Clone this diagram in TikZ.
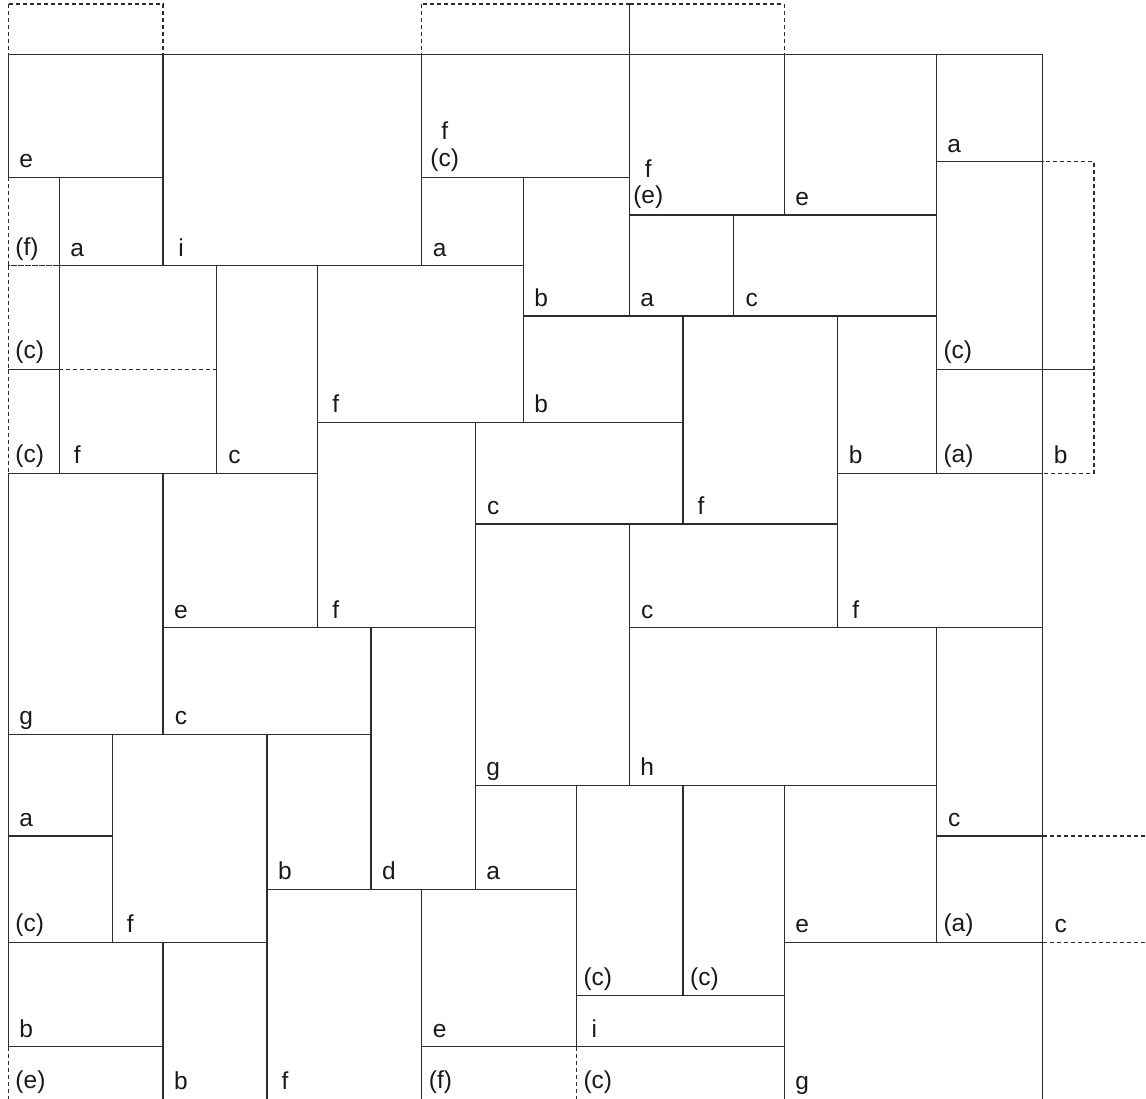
\documentclass[tikz,border=0pt]{standalone}
\usepackage{fontspec}
\setmainfont{Liberation Sans}
\definecolor{ln}{RGB}{45,45,45}
\definecolor{tx}{RGB}{25,25,25}
\tikzset{
  tile/.style={draw=ln,line width=1.4pt},
  wrap/.style={draw=ln,line width=1.3pt,dash pattern=on 4pt off 3pt},
  lb/.style={anchor=base,inner sep=0pt,text=tx,font=\fontsize{24.5}{29}\selectfont},
  lp/.style={lb,anchor=base west}
}
% name, x1, y1, x2, y2, label
\newcommand\TileL[6]{\draw[tile] (#2,#3) rectangle (#4,#5);
  \node[lb] (#1) at (#2+18,#5-9.5) {#6};}
\newcommand\TileP[6]{\draw[tile] (#2,#3) rectangle (#4,#5);
  \node[lp] (#1) at (#2+7,#5-10.5) {#6};}
% open at the bottom edge: name, x1, y1, x2, label
\newcommand\TileB[5]{\draw[tile] (#2,1099) -- (#2,#3) -- (#4,#3) -- (#4,1099);
  \node[lb] (#1) at (#2+18,1089.5) {#5};}
\begin{document}
\begin{tikzpicture}[x=1pt,y=-1pt]
\useasboundingbox (0,0) rectangle (1146,1099);
% ---- dashed wrap-around parts
\draw[wrap] (8.3,4) rectangle (163,54.5);
\draw[wrap] (421.7,4) rectangle (629.3,54.5);
\draw[wrap] (629.3,4) rectangle (784.3,54.5);
\draw[wrap] (8.3,177.5) rectangle (59.3,265.7);
\draw[wrap] (8.3,265.7) rectangle (59.3,369.5);
\draw[wrap] (8.3,369.5) rectangle (59.3,473.3);
\draw[wrap] (59.3,369.5) -- (216.5,369.5);
\draw[wrap] (1042.7,161.7) rectangle (1094,369.5);
\draw[wrap] (1042.7,369.5) rectangle (1094,473.3);
\draw[wrap] (1042.7,836) -- (1146,836);
\draw[wrap] (1042.7,942.3) -- (1146,942.3);
\draw[wrap] (8.3,1046.7) -- (8.3,1099);
\draw[wrap] (576.3,1046.7) -- (576.3,1099);
\node[lp] (w1) at (8.3+7,265.7-10.5) {(f)};
\node[lp] (w2) at (8.3+7,369.5-10.5) {(c)};
\node[lp] (w3) at (8.3+7,473.3-10.5) {(c)};
\node[lb] (w4) at (1042.7+18,473.3-9.5) {b};
\node[lb] (w5) at (1042.7+18,942.3-9.5) {c};
\node[lp] (w6) at (8.3+7,1088) {(e)};
\node[lp] (w7) at (576.3+7,1088) {(c)};
% ---- solid tiles
\TileL{t1}{8.3}{54.5}{163}{177.5}{e}
\TileL{t2}{163}{54.5}{421.7}{265.7}{i}
\TileL{t3}{59.3}{177.5}{163}{265.7}{a}
\draw[tile] (421.7,54.5) rectangle (629.3,177.5);
\node[lb] (t4a) at (421.7+23,177.5-37.5) {f};
\node[lb] (t4b) at (421.7+23,177.5-11) {(c)};
\TileL{t5}{421.7}{177.5}{523.3}{265.7}{a}
\TileL{t6}{523.3}{177.5}{629.3}{316}{b}
\draw[tile] (629.3,54.5) rectangle (784.3,215);
\node[lb] (t7a) at (629.3+19,215-37.5) {f};
\node[lb] (t7b) at (629.3+19,215-11) {(e)};
\TileL{t8}{784.3}{54.5}{936.3}{215}{e}
\TileL{t9}{936.3}{54.5}{1042.7}{161.7}{a}
\TileL{t10}{629.3}{215}{733.7}{316}{a}
\TileL{t11}{733.7}{215}{936.3}{316}{c}
\TileP{t12}{936.3}{161.7}{1042.7}{369.5}{(c)}
\TileP{t13}{936.3}{369.5}{1042.7}{473.3}{(a)}
\TileL{t14}{59.3}{265.7}{216.5}{473.3}{f}
\TileL{t15}{216.5}{265.7}{317.7}{473.3}{c}
\TileL{t16}{317.7}{265.7}{523.3}{422.3}{f}
\TileL{t17}{523.3}{316}{683}{422.3}{b}
\TileL{t18}{683}{316}{837.7}{524}{f}
\TileL{t19}{837.7}{316}{936.3}{473.3}{b}
\TileL{t20}{475.3}{422.3}{683}{524}{c}
\TileL{t21}{317.7}{422.3}{475.3}{627.7}{f}
\TileL{t22}{8.3}{473.3}{163}{734.3}{g}
\TileL{t23}{163}{473.3}{317.7}{627.7}{e}
\TileL{t24}{163}{627.7}{371}{734.3}{c}
\TileL{t25}{371}{627.7}{475.3}{889.3}{d}
\TileL{t26}{475.3}{524}{629.3}{785.3}{g}
\TileL{t27}{629.3}{524}{837.7}{627.7}{c}
\TileL{t28}{837.7}{473.3}{1042.7}{627.7}{f}
\TileL{t29}{629.3}{627.7}{936.3}{785.3}{h}
\TileL{t30}{936.3}{627.7}{1042.7}{836}{c}
\TileL{t31}{8.3}{734.3}{112.3}{836}{a}
\TileP{t32}{8.3}{836}{112.3}{942.3}{(c)}
\TileL{t33}{112.3}{734.3}{267}{942.3}{f}
\TileL{t34}{267}{734.3}{371}{889.3}{b}
\TileL{t35}{475.3}{785.3}{576.3}{889.3}{a}
\TileP{t36}{576.3}{785.3}{683}{995.7}{(c)}
\TileP{t37}{683}{785.3}{784.3}{995.7}{(c)}
\TileL{t38}{784.3}{785.3}{936.3}{942.3}{e}
\TileP{t39}{936.3}{836}{1042.7}{942.3}{(a)}
\TileL{t40}{8.3}{942.3}{163}{1046.7}{b}
\TileL{t41}{421.7}{889.3}{576.3}{1046.7}{e}
\TileL{t42}{576.3}{995.7}{784.3}{1046.7}{i}
\TileB{t43}{163}{942.3}{267}{b}
\TileB{t44}{267}{889.3}{421.7}{f}
\TileB{t45}{784.3}{942.3}{1042.7}{g}
\draw[tile] (421.7,1099) -- (421.7,1046.7) -- (576.3,1046.7);
\node[lp] (t46) at (421.7+7,1088) {(f)};
\end{tikzpicture}
\end{document}
